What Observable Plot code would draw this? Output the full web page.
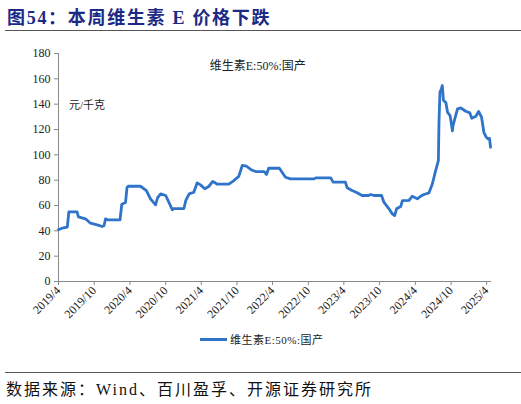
<!DOCTYPE html>
<html>
<head>
<meta charset="utf-8">
<script src="https://cdn.jsdelivr.net/npm/d3@7"></script>
<script src="https://cdn.jsdelivr.net/npm/@observablehq/plot@0.6"></script>
<style>
  html, body { margin: 0; padding: 0; background: #fff; }
  #wrap { position: relative; width: 521px; height: 404px; overflow: hidden; font-family: "Liberation Serif", "Noto Sans CJK SC", serif; }
  #title { position: absolute; left: 7px; top: 3px; font-family: "Liberation Serif", "Noto Sans CJK SC", serif; font-weight: bold; font-size: 18px; color: #1c2a86; letter-spacing: 1.7px; white-space: nowrap; }
  #tline { position: absolute; left: 5px; right: 0; top: 30px; height: 0; border-top: 1.5px solid #555; }
  #chart { position: absolute; left: 0; top: 32px; }
  #legend { position: absolute; top: 331px; left: 200px; font-size: 11px; color: #222; white-space: nowrap; display: flex; align-items: center; font-family: "Liberation Serif", "Noto Sans CJK SC", serif; letter-spacing: 0.5px; }
  #legend .sw { display: inline-block; width: 27px; height: 3px; background: #2f74c9; margin-right: 3px; }
  #bline { position: absolute; left: 5px; right: 0; top: 372px; height: 0; border-top: 1.5px solid #555; }
  #source { position: absolute; left: 6px; top: 376px; font-size: 16px; color: #111; white-space: nowrap; letter-spacing: 2px; font-family: "Liberation Serif", "Noto Sans CJK SC", serif; }
</style>
</head>
<body>
<div id="wrap">
  <div id="title">图54：本周维生素 E 价格下跌</div>
  <div id="tline"></div>
  <div id="chart"></div>
  <div id="legend"><span class="sw"></span>维生素E:50%:国产</div>
  <div id="bline"></div>
  <div id="source">数据来源：Wind、百川盈孚、开源证券研究所</div>
</div>
<script>
const seriesName = "维生素E:50%:国产";
const unitLabel = "元/千克";
const dates = [
  "2019-04-01","2019-04-26","2019-05-16","2019-05-24","2019-07-05","2019-07-12","2019-08-17","2019-09-12",
  "2019-10-16","2019-11-11","2019-11-20","2019-11-28","2019-12-08","2020-02-10","2020-02-19","2020-03-09",
  "2020-03-17","2020-03-24","2020-05-25","2020-06-24","2020-07-15","2020-08-10","2020-08-20","2020-09-05",
  "2020-10-01","2020-11-04","2020-11-11","2021-01-02","2021-01-12","2021-01-29","2021-02-22","2021-03-11",
  "2021-03-28","2021-04-19","2021-05-09","2021-05-30","2021-06-22","2021-08-20","2021-09-15","2021-10-10",
  "2021-10-28","2021-11-18","2021-12-15","2022-01-05","2022-02-17","2022-03-01","2022-03-12","2022-05-06",
  "2022-06-06","2022-07-02","2022-10-30","2022-11-08","2023-01-24","2023-02-05","2023-04-09","2023-04-18",
  "2023-05-13","2023-06-08","2023-07-03","2023-08-05","2023-08-16","2023-09-02","2023-10-11","2023-10-23",
  "2023-11-18","2023-12-05","2023-12-17","2023-12-27","2024-01-17","2024-01-26","2024-02-29","2024-03-16",
  "2024-04-11","2024-04-28","2024-05-15","2024-06-10","2024-06-27","2024-07-14","2024-07-28","2024-07-31",
  "2024-08-05","2024-08-12","2024-08-17","2024-08-23","2024-09-04","2024-09-13","2024-09-26","2024-10-08",
  "2024-10-11","2024-10-20","2024-11-03","2024-11-20","2024-12-15","2025-01-05","2025-01-15","2025-02-05",
  "2025-02-19","2025-03-06","2025-03-18","2025-03-30","2025-04-09","2025-04-16","2025-04-21"
];
const prices = [
  41, 42.4, 43, 55, 55, 51, 49.5, 46,
  44.7, 43.4, 44, 49.5, 48.7, 48.7, 61, 62.3,
  74.4, 75.2, 75.2, 71.8, 65.3, 60.5, 66, 69.2,
  67.9, 56.6, 57.6, 57.6, 64, 69.2, 70.5, 77.9,
  76.3, 73.2, 75, 79, 76.8, 76.8, 79.7, 83,
  91.6, 91, 88, 86.8, 86.8, 84.5, 89.4, 89.4,
  82.3, 81, 81, 81.8, 81.8, 78.4, 78.4, 74,
  71.8, 70, 67.9, 67.9, 68.7, 67.9, 67.9, 62.6,
  57.4, 53.4, 52, 57.4, 59.2, 63.8, 64, 67.3,
  65.3, 67.3, 68.7, 70, 77, 87.6, 95.5, 124.5,
  149.4, 152, 154.7, 142.9, 141.5, 133.6, 131, 119,
  123.1, 128.4, 136.3, 137, 134.4, 133.1, 128.9, 130.5,
  134.2, 129.7, 117.8, 113.9, 112.6, 113, 106
];
const tickDates = ["2019-04-01","2019-10-01","2020-04-01","2020-10-01","2021-04-01","2021-10-01","2022-04-01","2022-10-01","2023-04-01","2023-10-01","2024-04-01","2024-10-01","2025-04-01"];
const tickLabels = ["2019/4","2019/10","2020/4","2020/10","2021/4","2021/10","2022/4","2022/10","2023/4","2023/10","2024/4","2024/10","2025/4"];
const yTicks = [0, 20, 40, 60, 80, 100, 120, 140, 160, 180];

const data = dates.map((d, i) => ({date: new Date(d + "T00:00:00Z"), value: prices[i]}));
const ticks = tickDates.map(d => new Date(d + "T00:00:00Z"));
const labelOf = new Map(ticks.map((t, i) => [+t, tickLabels[i]]));
const xStart = new Date("2019-04-01T00:00:00Z");
const xEnd = new Date("2025-04-26T00:00:00Z");

const chart = Plot.plot({
  width: 521,
  height: 300,
  marginTop: 21,
  marginBottom: 51,
  marginLeft: 58,
  marginRight: 30,
  style: {fontFamily: "'Liberation Serif', 'Noto Sans CJK SC', serif", fontSize: "12px", color: "#222", background: "transparent"},
  x: {type: "utc", domain: [xStart, xEnd]},
  y: {domain: [0, 180]},
  marks: [
    Plot.axisY({ticks: yTicks, tickSize: 4, tickPadding: 4, label: null, stroke: "#888", fontSize: 12}),
    Plot.axisX({ticks: ticks, tickFormat: d => labelOf.get(+d), tickSize: 4, tickPadding: 3, tickRotate: -45, label: null, stroke: "#888", fontSize: 12}),
    Plot.ruleX([xStart], {y1: 0, y2: 180, stroke: "#888"}),
    Plot.ruleY([0], {x1: xStart, x2: xEnd, stroke: "#888"}),
    Plot.line(data, {x: "date", y: "value", stroke: "#2f74c9", strokeWidth: 2.8, strokeLinejoin: "round", strokeLinecap: "round"}),
    Plot.text([seriesName], {x: () => new Date("2022-01-15T00:00:00Z"), y: () => 170, text: d => d, fontSize: 12, fill: "#222"}),
    Plot.text([unitLabel], {x: () => new Date("2019-05-25T00:00:00Z"), y: () => 139, text: d => d, fontSize: 11, fill: "#222", textAnchor: "start"})
  ]
});
document.getElementById("chart").appendChild(chart);
</script>
</body>
</html>
